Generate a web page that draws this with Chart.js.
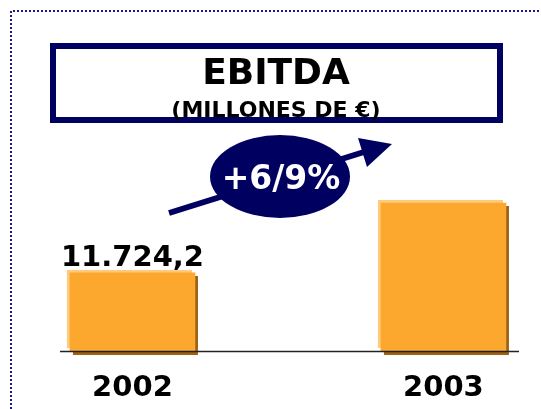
<!DOCTYPE html>
<html>
<head>
<meta charset="utf-8">
<script src="https://cdn.jsdelivr.net/npm/chart.js@4/dist/chart.umd.min.js"></script>
<style>
  html, body { margin: 0; padding: 0; background: #fff; }
  #wrap { width: 541px; height: 409px; }
</style>
</head>
<body>
<div id="wrap"><canvas id="chart"></canvas></div>
<script>
// data (2003 value is not printed; estimated from the +6,9% label)
const categories = ['2002', '2003'];
const ebitda = [11724.2, 12533];
const valueLabels = ['11.724,2', ''];
const growthLabel = '+6/9%';
const titleText = 'EBITDA';
const subtitleText = '(MILLONES DE €)';

const Y_MIN = 10822;
const Y_MAX = 13261;

const NAVY = '#000060';
const FONT = "Tahoma, 'DejaVu Sans', Verdana, sans-serif";

// bars get a light edge up-left and a dark shadow down-right
const barDecor = {
    id: 'barDecor',
    beforeDatasetsDraw(chart) {
        const ctx = chart.ctx;
        const meta = chart.getDatasetMeta(0);
        ctx.save();
        meta.data.forEach(bar => {
            const left = bar.x - bar.width / 2;
            const h = bar.base - bar.y;
            ctx.fillStyle = '#9c6016';
            ctx.fillRect(left + 3, bar.y + 3, bar.width, h + 1);
            ctx.fillStyle = '#ffca7c';
            ctx.fillRect(left - 3, bar.y - 3, bar.width, h);
        });
        ctx.restore();
    },
    afterDatasetsDraw(chart) {
        const ctx = chart.ctx;
        const meta = chart.getDatasetMeta(0);
        ctx.save();
        ctx.fillStyle = '#000';
        ctx.font = 'bold 29px ' + FONT;
        ctx.textAlign = 'center';
        ctx.textBaseline = 'alphabetic';
        meta.data.forEach((bar, i) => {
            if (valueLabels[i]) ctx.fillText(valueLabels[i], bar.x, bar.y - 7);
        });
        // baseline
        const a = chart.chartArea;
        ctx.strokeStyle = '#222';
        ctx.lineWidth = 1.5;
        ctx.beginPath();
        ctx.moveTo(a.left, a.bottom + 0.5);
        ctx.lineTo(a.right, a.bottom + 0.5);
        ctx.stroke();
        ctx.restore();
    }
};

// frame, title box and growth bubble
const decor = {
    id: 'decor',
    afterDraw(chart) {
        const ctx = chart.ctx;
        ctx.save();

        // dotted frame
        ctx.strokeStyle = '#1a1a80';
        ctx.lineWidth = 2;
        ctx.setLineDash([2, 2]);
        ctx.beginPath();
        ctx.moveTo(11, 409);
        ctx.lineTo(11, 11);
        ctx.lineTo(541, 11);
        ctx.stroke();
        ctx.setLineDash([]);

        // title box
        ctx.strokeStyle = NAVY;
        ctx.lineWidth = 6;
        ctx.strokeRect(53, 46, 447, 74);

        ctx.fillStyle = '#000';
        ctx.textAlign = 'center';
        ctx.textBaseline = 'alphabetic';
        ctx.font = 'bold 36px ' + FONT;
        ctx.fillText(titleText, 276, 84);
        ctx.font = 'bold 22px ' + FONT;
        ctx.fillText(subtitleText, 276, 117);

        // arrow
        ctx.strokeStyle = NAVY;
        ctx.fillStyle = NAVY;
        ctx.lineWidth = 6;
        ctx.beginPath();
        ctx.moveTo(169, 213);
        ctx.lineTo(364, 152);
        ctx.stroke();
        ctx.beginPath();
        ctx.moveTo(392, 144);
        ctx.lineTo(358, 138);
        ctx.lineTo(367, 167);
        ctx.closePath();
        ctx.fill();

        // bubble
        ctx.beginPath();
        ctx.ellipse(280, 176.5, 70, 41.5, 0, 0, Math.PI * 2);
        ctx.fill();
        ctx.fillStyle = '#fff';
        ctx.font = 'bold 33px ' + FONT;
        ctx.textBaseline = 'middle';
        ctx.fillText(growthLabel, 281, 180);

        ctx.restore();
    }
};

const ctx = document.getElementById('chart').getContext('2d');

const chart = new Chart(ctx, {
    type: 'bar',
    data: {
        datasets: [{
            data: ebitda.map((v, i) => ({ x: i, y: v })),
            backgroundColor: '#fca82f',
            borderWidth: 0,
            barThickness: 125,
            base: Y_MIN
        }]
    },
    options: {
        responsive: true,
        maintainAspectRatio: false,
        animation: false,
        layout: { padding: { left: 60, right: 22, top: 140, bottom: 0 } },
        plugins: {
            legend: { display: false },
            tooltip: { enabled: false }
        },
        scales: {
            x: {
                type: 'linear',
                offset: false,
                min: -0.233,
                max: 1.243,
                grid: { display: false, drawTicks: false, offset: false },
                border: { display: false },
                afterBuildTicks: scale => {
                    scale.ticks = categories.map((c, i) => ({ value: i }));
                },
                afterFit: scale => { scale.height = 58; },
                ticks: {
                    padding: 20,
                    autoSkip: false,
                    maxRotation: 0,
                    color: '#000',
                    font: { family: FONT, size: 29, weight: 'bold' },
                    callback: v => categories[v]
                }
            },
            y: {
                display: false,
                min: Y_MIN,
                max: Y_MAX
            }
        }
    },
    plugins: [barDecor, decor]
});
</script>
</body>
</html>
